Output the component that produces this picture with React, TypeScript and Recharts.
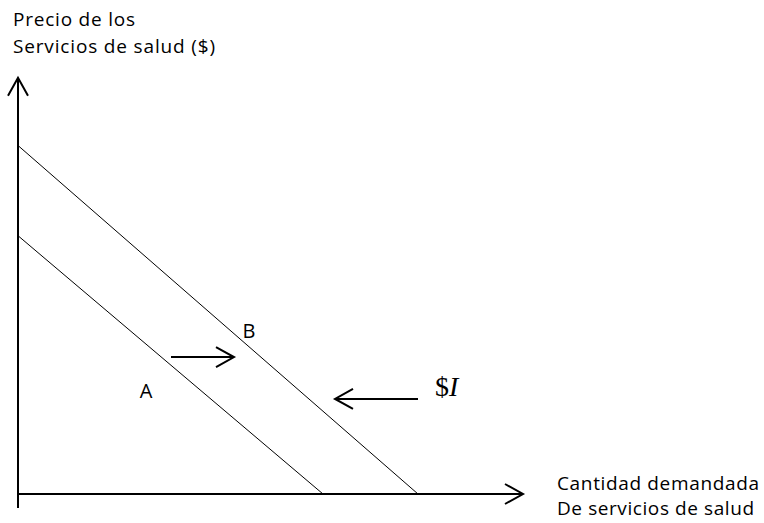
import React from "react";
import {
  ComposedChart,
  Line,
  XAxis,
  YAxis,
  ReferenceLine,
  ReferenceDot,
  Customized,
} from "recharts";

// Demand curves (q = quantity, p = price)
const demandA = [
  { q: 0, p: 6.3 },
  { q: 6.1, p: 0 },
];
const demandB = [
  { q: 0, p: 8.5 },
  { q: 8.0, p: 0 },
];

// Axes with arrowheads
const yAxisSeg = [
  { x: 0, y: -0.34 },
  { x: 0, y: 10.15 },
];
const xAxisSeg = [
  { x: 0, y: 0 },
  { x: 10.1, y: 0 },
];

// Shift arrows
const shiftArrow = [
  { x: 3.06, y: 3.34 },
  { x: 4.32, y: 3.34 },
];
const incomeArrow = [
  { x: 8.0, y: 2.32 },
  { x: 6.34, y: 2.32 },
];

// Curve labels
const curveLabels = [
  { q: 2.56, p: 2.34, text: "A" },
  { q: 4.62, p: 3.8, text: "B" },
];
const incomeLabel = { q: 8.34, p: 2.4 };

const ArrowLine = (props: any) => {
  const { x1, y1, x2, y2, sw = 2, head = 18, half = 10 } = props;
  const ang = Math.atan2(y2 - y1, x2 - x1);
  const bx = x2 - head * Math.cos(ang);
  const by = y2 - head * Math.sin(ang);
  const nx = -Math.sin(ang) * half;
  const ny = Math.cos(ang) * half;
  return (
    <g>
      <line x1={x1} y1={y1} x2={x2} y2={y2} stroke="#000" strokeWidth={sw} />
      <polyline
        points={`${bx + nx},${by + ny} ${x2},${y2} ${bx - nx},${by - ny}`}
        fill="none"
        stroke="#000"
        strokeWidth={sw}
      />
    </g>
  );
};

const sans = "'Open Sans', Calibri, sans-serif";

const Titles = () => (
  <g fontFamily={sans} fontSize={19} fill="#000">
    <text x={13} y={26} textLength={122} lengthAdjust="spacing">
      Precio de los
    </text>
    <text x={13} y={53} textLength={202} lengthAdjust="spacing">
      Servicios de salud ($)
    </text>
    <text x={557} y={490} textLength={202} lengthAdjust="spacing">
      Cantidad demandada
    </text>
    <text x={557} y={515} textLength={197} lengthAdjust="spacing">
      De servicios de salud
    </text>
  </g>
);

const App: React.FC = () => {
  return (
    <div style={{ position: "absolute", left: 0, top: 0, background: "#fff" }}>
      <ComposedChart
        width={764}
        height={523}
        margin={{ top: 84, right: 246, bottom: 29, left: 18 }}
      >
        <XAxis dataKey="q" type="number" domain={[0, 10]} hide allowDataOverflow />
        <YAxis type="number" domain={[0, 10]} hide allowDataOverflow />
        <ReferenceLine
          segment={yAxisSeg}
          ifOverflow="visible"
          shape={(p: any) => <ArrowLine {...p} sw={2} />}
        />
        <ReferenceLine
          segment={xAxisSeg}
          ifOverflow="visible"
          shape={(p: any) => <ArrowLine {...p} sw={2} />}
        />
        <Line
          data={demandA}
          dataKey="p"
          stroke="#000"
          strokeWidth={1}
          dot={false}
          activeDot={false}
          isAnimationActive={false}
        />
        <Line
          data={demandB}
          dataKey="p"
          stroke="#000"
          strokeWidth={1}
          dot={false}
          activeDot={false}
          isAnimationActive={false}
        />
        <ReferenceLine
          segment={shiftArrow}
          ifOverflow="visible"
          shape={(p: any) => <ArrowLine {...p} sw={2} />}
        />
        <ReferenceLine
          segment={incomeArrow}
          ifOverflow="visible"
          shape={(p: any) => <ArrowLine {...p} sw={2} />}
        />
        {curveLabels.map((l) => (
          <ReferenceDot
            key={l.text}
            x={l.q}
            y={l.p}
            ifOverflow="visible"
            shape={(p: any) => (
              <text
                x={p.cx}
                y={p.cy}
                textAnchor="middle"
                fontFamily={sans}
                fontSize={20}
              >
                {l.text}
              </text>
            )}
          />
        ))}
        <ReferenceDot
          x={incomeLabel.q}
          y={incomeLabel.p}
          ifOverflow="visible"
          shape={(p: any) => (
            <text
              x={p.cx}
              y={p.cy}
              fontFamily="'Liberation Serif', 'Times New Roman', serif"
              fontSize={28}
            >
              $<tspan fontStyle="italic">I</tspan>
            </text>
          )}
        />
        <Customized component={Titles} />
      </ComposedChart>
    </div>
  );
};

export default App;
